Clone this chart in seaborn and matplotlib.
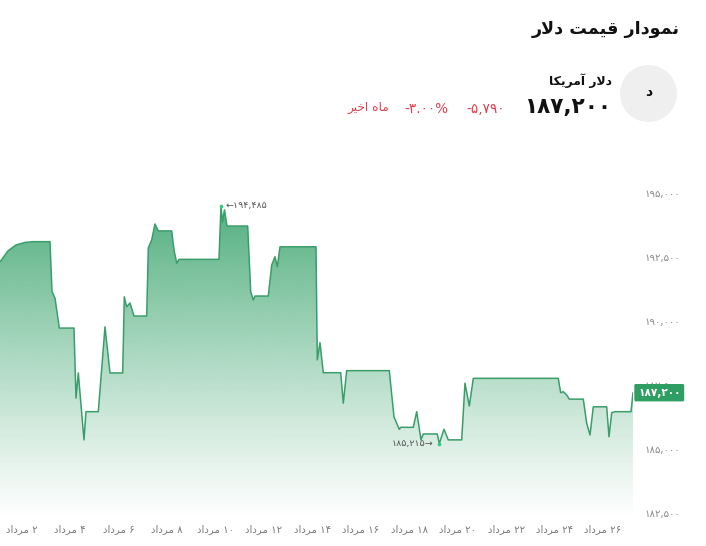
import numpy as np
import pandas as pd
import matplotlib
matplotlib.use("Agg")
import matplotlib.pyplot as plt
import matplotlib.transforms as mtransforms
from matplotlib.patches import Circle
import seaborn as sns

# ---------------- data ----------------
days = [1.104, 1.434, 1.765, 2.136, 2.467, 3.168, 3.251, 3.375, 3.552, 4.159,
        4.242, 4.337, 4.572, 4.654, 5.163, 5.439, 5.646, 6.170, 6.236, 6.335,
        6.471, 6.637, 7.161, 7.227, 7.367, 7.503, 7.640, 8.193, 8.288, 8.400,
        8.495, 10.146, 10.229, 10.291, 10.373, 10.476, 11.331, 11.455, 11.562, 11.632,
        12.182, 12.322, 12.458, 12.553, 12.665, 14.151, 14.205, 14.316, 14.452, 15.171,
        15.278, 15.419, 17.177, 17.371, 17.590, 17.648, 18.168, 18.309, 18.486, 18.581,
        19.159, 19.242, 19.436, 19.613, 20.167, 20.303, 20.481, 20.646, 24.155, 24.254,
        24.362, 24.502, 24.609, 25.187, 25.328, 25.464, 25.600, 26.154, 26.249, 26.360,
        26.497, 27.157, 27.240]
prices = [192300, 192730, 192960, 193060, 193090, 193090, 191140, 190890, 189720, 189720,
          186990, 187970, 185360, 186460, 186460, 189770, 187970, 187970, 190940, 190550,
          190700, 190190, 190190, 192840, 193160, 193780, 193510, 193510, 192770, 192250,
          192400, 192400, 194485, 193860, 194330, 193700, 193700, 191140, 190820, 190970,
          190970, 192180, 192500, 192110, 192890, 192890, 188480, 189150, 187980, 187980,
          186790, 188060, 188060, 186260, 185770, 185850, 185850, 186460, 185360, 185590,
          185590, 185215, 185770, 185360, 185360, 187570, 186680, 187760, 187760, 187200,
          187240, 187110, 186950, 186950, 186010, 185550, 186650, 186650, 185480, 186420,
          186460, 186460, 187200]
y_ticks = [182500, 185000, 187500, 190000, 192500, 195000]
x_ticks = [2, 4, 6, 8, 10, 12, 14, 16, 18, 20, 22, 24, 26]
month_name = "مرداد"
title_text = "نمودار قیمت دلار"
asset_name = "دلار آمریکا"
asset_letter = "د"
last_price = 187200
change_abs = -5790
change_pct = -3.00
period_text = "ماه اخیر"

# ---------------- helpers ----------------
FA_DIGITS = str.maketrans("0123456789", "۰۱۲۳۴۵۶۷۸۹")


def fa(s):
    return str(s).translate(FA_DIGITS)


def fa_num(v):
    return fa(f"{v:,}")


FORMS = {
    'ا': ('\uFE8D', '\uFE8E', None, None),
    'آ': ('\uFE81', '\uFE82', None, None),
    'د': ('\uFEA9', '\uFEAA', None, None),
    'ر': ('\uFEAD', '\uFEAE', None, None),
    'و': ('\uFEED', '\uFEEE', None, None),
    'ن': ('\uFEE5', '\uFEE6', '\uFEE7', '\uFEE8'),
    'م': ('\uFEE1', '\uFEE2', '\uFEE3', '\uFEE4'),
    'ق': ('\uFED5', '\uFED6', '\uFED7', '\uFED8'),
    'ی': ('\uFBFC', '\uFBFD', '\uFBFE', '\uFBFF'),
    'ت': ('\uFE95', '\uFE96', '\uFE97', '\uFE98'),
    'ل': ('\uFEDD', '\uFEDE', '\uFEDF', '\uFEE0'),
    'ک': ('\uFB8E', '\uFB8F', '\uFB90', '\uFB91'),
    'خ': ('\uFEA5', '\uFEA6', '\uFEA7', '\uFEA8'),
    'ه': ('\uFEE9', '\uFEEA', '\uFEEB', '\uFEEC'),
}
LAM_ALEF = {'ا': ('\uFEFB', '\uFEFC'), 'آ': ('\uFEF5', '\uFEF6')}


def shape_word(w):
    out = []
    i, n = 0, len(w)
    while i < n:
        c = w[i]
        if c not in FORMS:
            out.append(c)
            i += 1
            continue
        prev = w[i - 1] if i > 0 else None
        jp = prev in FORMS and FORMS[prev][2] is not None
        if c == 'ل' and i + 1 < n and w[i + 1] in LAM_ALEF:
            out.append(LAM_ALEF[w[i + 1]][1 if jp else 0])
            i += 2
            continue
        nxt = w[i + 1] if i + 1 < n else None
        jn = FORMS[c][2] is not None and nxt in FORMS
        iso, fin, ini, med = FORMS[c]
        if jp and jn:
            f = med
        elif jp:
            f = fin
        elif jn:
            f = ini
        else:
            f = iso
        out.append(f)
        i += 1
    return ''.join(out)[::-1]


def rtl(s):
    words = s.split(' ')
    res = []
    for w in reversed(words):
        if any(ch in FORMS for ch in w):
            res.append(shape_word(w))
        else:
            res.append(w)
    return ' '.join(res)


# ---------------- figure ----------------
W, H = 706, 546
sns.set_theme(style="white")
plt.rcParams['font.family'] = ['DejaVu Sans']

fig = plt.figure(figsize=(W / 100, H / 100), dpi=100)
fig.patch.set_facecolor("white")


def fx(x):
    return x / W


def fy(y):
    return 1 - y / H


ax_left, ax_right, ax_top, ax_bottom = 0, 633, 160, 520
ax = fig.add_axes([fx(ax_left), fy(ax_bottom), fx(ax_right - ax_left), (ax_bottom - ax_top) / H])

df = pd.DataFrame({"day": days, "price": prices})
line_color = "#3a9e6a"

ymin = 195000 - (ax_bottom - 192.7) * 39
ymax = 195000 - (ax_top - 192.7) * 39
ax.set_xlim(days[0], days[-1])
ax.set_ylim(ymin, ymax)

# gradient fill under the line
poly = ax.fill_between(df["day"], df["price"], ymin, facecolor="none", edgecolor="none")
grad_n = 256
alpha = np.linspace(0.0, 0.9, grad_n) ** 1.1
base = np.array(matplotlib.colors.to_rgb("#36a26a"))
img = np.zeros((grad_n, 1, 4))
img[:, 0, :3] = base
img[:, 0, 3] = alpha
im = ax.imshow(img, aspect="auto", origin="lower",
               extent=[days[0], days[-1], ymin, 195000], zorder=1, interpolation="bilinear")
im.set_clip_path(poly.get_paths()[0], transform=ax.transData)

sns.lineplot(data=df, x="day", y="price", color=line_color, linewidth=1.1, ax=ax,
             zorder=3, sort=False, estimator=None)

# restore limits after imshow
ax.set_xlim(days[0], days[-1])
ax.set_ylim(ymin, ymax)

for s in ax.spines.values():
    s.set_visible(False)
ax.grid(False)
ax.set_xlabel("")
ax.set_ylabel("")

ax.yaxis.tick_right()
ax.set_yticks(y_ticks)
ax.set_yticklabels([fa_num(v) for v in y_ticks])
ax.tick_params(axis='y', length=0, pad=8, labelsize=7.3, labelcolor="#8a8a8a")
ax.set_xticks(x_ticks)
ax.set_xticklabels([rtl(f"{fa(d)} {month_name}") for d in x_ticks])
ax.tick_params(axis='x', length=0, pad=3, labelsize=7.3, labelcolor="#7a7a7a")

# max / min markers
imax = int(np.argmax(prices))
imin = int(np.argmin(prices))
ax.scatter([days[imax], days[imin]], [prices[imax], prices[imin]], s=7, color="#2ecc85",
           zorder=5, linewidths=0)
ax.annotate("\u2190" + fa_num(prices[imax]), xy=(days[imax], prices[imax]),
            xytext=(3, 0), textcoords="offset points", ha="left", va="center",
            fontsize=6.8, color="#555555", zorder=6)
ax.annotate(fa_num(prices[imin]) + "\u2192", xy=(days[imin], prices[imin]),
            xytext=(-4, 0), textcoords="offset points", ha="right", va="center",
            fontsize=6.8, color="#555555", zorder=6)

# last value label
trans = mtransforms.blended_transform_factory(ax.transAxes, ax.transData)
ax.annotate(fa_num(last_price), xy=(1.0, last_price), xycoords=trans,
            xytext=(3.6, 0), textcoords="offset points", ha="left", va="center",
            fontsize=7.6, fontweight="bold", color="white", zorder=7, annotation_clip=False,
            bbox=dict(boxstyle="round,pad=0.35,rounding_size=0.15", fc="#2f9e62", ec="none"))

# ---------------- header ----------------
fig.text(fx(680), fy(29), rtl(title_text), ha="right", va="center",
         fontsize=12.6, fontweight="bold", color="#111111")

circ = Circle((648.5 / 100, (H - 93.5) / 100), 0.285, transform=fig.dpi_scale_trans,
              facecolor="#efefef", edgecolor="none")
fig.add_artist(circ)
fig.text(fx(648.5), fy(92), rtl(asset_letter), ha="center", va="center",
         fontsize=10, fontweight="bold", color="#111111")

fig.text(fx(612), fy(81), rtl(asset_name), ha="right", va="center",
         fontsize=8.9, fontweight="bold", color="#111111")
fig.text(fx(611), fy(107), fa_num(last_price), ha="right", va="center",
         fontsize=15.5, fontweight="bold", color="#111111")

red = "#e0404f"
fig.text(fx(505), fy(109), "-" + fa_num(abs(change_abs)), ha="right", va="center",
         fontsize=9.8, color=red)
fig.text(fx(449), fy(109), "-" + fa(f"{abs(change_pct):.2f}") + "%", ha="right", va="center",
         fontsize=9.8, color=red)
fig.text(fx(389), fy(108), rtl(period_text), ha="right", va="center",
         fontsize=8.7, color=red)

fig.savefig("out.png", dpi=100, facecolor="white")
